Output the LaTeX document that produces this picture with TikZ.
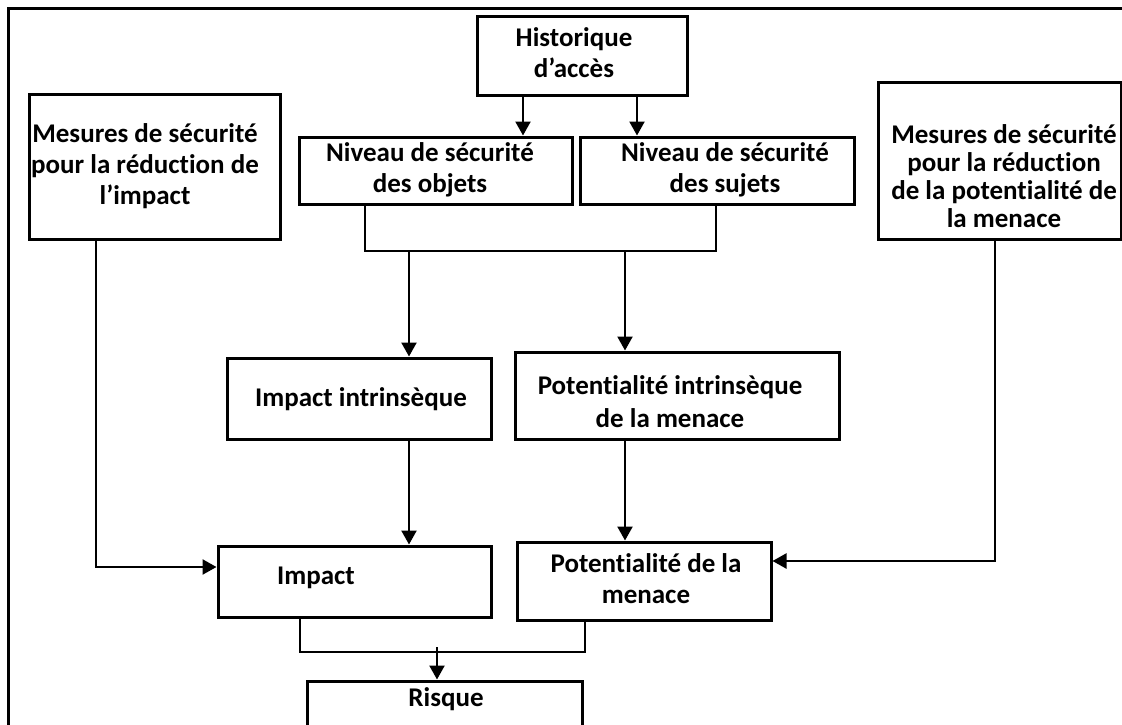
\documentclass[tikz,border=0pt]{standalone}
\usepackage{fontspec}
\setmainfont{Carlito}[Ligatures=NoCommon]
\usetikzlibrary{arrows.meta}
\begin{document}
\begin{tikzpicture}[x=1pt,y=-1pt,
  box/.style={draw, line width=3pt, rectangle, inner sep=0pt},
  lbl/.style={font=\fontsize{27}{31}\selectfont\bfseries, align=center, inner sep=0pt},
  link/.style={line width=2.3pt},
  arr/.style={link, -{Triangle[length=14pt,width=15pt]}},
  frame/.style={line width=3pt}]
\useasboundingbox (0,0) rectangle (1122,725);
\clip (0,0) rectangle (1122,725);

% outer frame (runs past the lower edge)
\draw[frame] (8,760) -- (8,9) -- (1128,9) -- (1128,760);

% boxes
\node[box, minimum width=251pt, minimum height=145pt] (mleft) at (154.5,166.5) {};
\node[box, minimum width=210pt, minimum height=78pt]  (hist)  at (582,56) {};
\node[box, minimum width=273pt, minimum height=67pt]  (obj)   at (435.5,170.5) {};
\node[box, minimum width=274pt, minimum height=67pt]  (suj)   at (717,170.5) {};
\node[box, minimum width=243pt, minimum height=156pt] (mright) at (999.5,161) {};
\node[box, minimum width=264pt, minimum height=81pt]  (intr)  at (359,398.5) {};
\node[box, minimum width=324pt, minimum height=87pt]  (pintr) at (677,395.5) {};
\node[box, minimum width=273pt, minimum height=71pt]  (impact) at (354.5,581.5) {};
\node[box, minimum width=254pt, minimum height=78pt]  (pot)   at (644,581) {};
\node[box, minimum width=275pt, minimum height=70pt]  (risque) at (444.5,716) {};

% texts
\node[lbl] (mleft-t) at (145,166) {Mesures de sécurité\\pour la réduction de\\l’impact};
\node[lbl] (hist-t) at (574,53) {Historique\\d’accès};
\node[lbl] (obj-t) at (430,170) {Niveau de sécurité\\des objets};
\node[lbl] (suj-t) at (725,170) {Niveau de sécurité\\des sujets};
\node[lbl, font=\fontsize{27}{28}\selectfont\bfseries] (mright-t) at (1004,176) {Mesures de sécurité\\pour la réduction\\de la potentialité de\\la menace};
\node[lbl] (intr-t) at (361,399) {Impact intrinsèque};
\node[lbl, font=\fontsize{27}{33}\selectfont\bfseries] (pintr-t) at (670,402) {Potentialité intrinsèque\\de la menace};
\node[lbl] (impact-t) at (316,578) {Impact};
\node[lbl] (pot-t) at (646,579) {Potentialité de la\\menace};
\node[lbl] (risque-t) at (446,699) {Risque};

% routing points
\coordinate (h1) at (523,0);
\coordinate (h2) at (637,0);
\coordinate (b1) at (365,251);
\coordinate (b2) at (716,251);
\coordinate (d1) at (409,251);
\coordinate (d2) at (625,251);
\coordinate (lc) at (96,567);
\coordinate (rc) at (995,561);
\coordinate (r1) at (300,652);
\coordinate (r2) at (585,652);
\coordinate (rm) at (437,652);

% connectors
\draw[arr] (hist.south -| h1) -- (obj.north -| h1);
\draw[arr] (hist.south -| h2) -- (suj.north -| h2);
\draw[link] (obj.south -| b1) -- (b1) -- (b2) -- (suj.south -| b2);
\draw[arr] (d1) -- (intr.north -| d1);
\draw[arr] (d2) -- (pintr.north -| d2);
\draw[arr] (intr.south -| d1) -- (impact.north -| d1);
\draw[arr] (pintr.south -| d2) -- (pot.north -| d2);
\draw[arr] (mleft.south -| lc) -- (lc) -- (impact.west |- lc);
\draw[arr] (mright.south -| rc) -- (rc) -- (pot.east |- rc);
\draw[link] (impact.south -| r1) -- (r1) -- (r2) -- (pot.south -| r2);
\draw[arr] ([yshift=5pt]rm) -- (risque.north -| rm);
\end{tikzpicture}
\end{document}
